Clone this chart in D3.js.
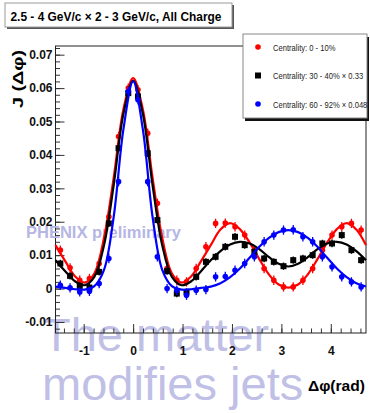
<!DOCTYPE html>
<html>
<head>
<meta charset="utf-8">
<script src="https://cdn.jsdelivr.net/npm/d3@7"></script>
<style>
  body { margin: 0; background: #fff; }
  svg { display: block; }
  text { font-family: "Liberation Sans", Arial, sans-serif; }
</style>
</head>
<body>
<script>
// bin centres (rad)
let binX = [-1.473, -1.276, -1.080, -0.884, -0.687, -0.491, -0.295, -0.098,
             0.098,  0.295,  0.491,  0.687,  0.884,  1.080,  1.276,  1.473,
             1.669,  1.865,  2.062,  2.258,  2.454,  2.651,  2.847,  3.043,
             3.240,  3.436,  3.633,  3.829,  4.025,  4.222,  4.418,  4.614];

let red   = [0.0115, 0.0062, 0.0025, 0.0030, 0.0075, 0.0215, 0.0455, 0.0600,
             0.0595, 0.0465, 0.0255, 0.0060, 0.0025, 0.0020, 0.0060, 0.0125,
             0.0195, 0.0196, 0.0185, 0.0160, 0.0115, 0.0060, 0.0025, 0.0005,
             0.0005, 0.0025, 0.0060, 0.0115, 0.0160, 0.0185, 0.0195, 0.0175];
let black = [0.0075, 0.0038, 0.0008, 0.0003, 0.0050, 0.0195, 0.0420, 0.0585,
             0.0575, 0.0405, 0.0205, 0.0052, -0.0015, -0.0010, 0.0035, 0.0080,
             0.0095, 0.0125, 0.0155, 0.0130, 0.0110, 0.0090, 0.0080, 0.0067,
             0.0085, 0.0090, 0.0100, 0.0135, 0.0135, 0.0160, 0.0115, 0.0085];
let blue  = [0.0010, 0.0002, -0.0010, -0.0008, 0.0015, 0.0090, 0.0320, 0.0590,
             0.0565, 0.0320, 0.0095, 0.0000, -0.0005, -0.0020, -0.0005, -0.0003,
             0.0035, 0.0036, 0.0055, 0.0075, 0.0095, 0.0140, 0.0160, 0.0175,
             0.0176, 0.0155, 0.0140, 0.0095, 0.0065, 0.0035, 0.0020, 0.0005];
let errors = [0.0014, 0.0011, 0.0014];

// fit curves
let fitX = [-1.571, -1.374, -1.178, -0.982, -0.785, -0.589, -0.393, -0.196, 0,
             0.196,  0.393,  0.589,  0.785,  0.982,  1.178,  1.374,  1.571,
             1.767,  1.963,  2.160,  2.356,  2.553,  2.749,  2.945,  3.142,
             3.338,  3.534,  3.731,  3.927,  4.123,  4.320,  4.516,  4.712];
let redFit   = [0.0130, 0.0082, 0.0037, 0.0018, 0.0045, 0.0152, 0.0332, 0.0537, 0.0630,
                0.0537, 0.0332, 0.0152, 0.0045, 0.0018, 0.0037, 0.0082, 0.0130,
                0.0177, 0.0196, 0.0178, 0.0138, 0.0088, 0.0042, 0.0012, 0.0003,
                0.0012, 0.0042, 0.0088, 0.0138, 0.0178, 0.0196, 0.0177, 0.0130];
let blackFit = [0.0085, 0.0052, 0.0022, 0.0010, 0.0035, 0.0130, 0.0310, 0.0523, 0.0622,
                0.0523, 0.0310, 0.0130, 0.0035, 0.0010, 0.0022, 0.0052, 0.0085,
                0.0112, 0.0132, 0.0140, 0.0135, 0.0118, 0.0094, 0.0074, 0.0066,
                0.0074, 0.0094, 0.0118, 0.0135, 0.0140, 0.0132, 0.0112, 0.0085];
let blueFit  = [0.0006, 0.0002, -0.0002, -0.0003, 0.0007, 0.0056, 0.0215, 0.0477, 0.0620,
                0.0477, 0.0215, 0.0056, 0.0007, -0.0003, -0.0002, 0.0002, 0.0006,
                0.0016, 0.0034, 0.0060, 0.0092, 0.0125, 0.0152, 0.0169, 0.0175,
                0.0169, 0.0152, 0.0125, 0.0092, 0.0060, 0.0034, 0.0016, 0.0006];

let legendLabels = ["Centrality:  0 - 10%", "Centrality: 30 - 40% \u00d7 0.33", "Centrality: 60 - 92% \u00d7 0.048"];
let xTicks = [-1, 0, 1, 2, 3, 4];
let yTicks = [-0.01, 0, 0.01, 0.02, 0.03, 0.04, 0.05, 0.06, 0.07];

let w = 370;
let h = 413;
let pLeft = 55.5, pRight = 366, pTop = 46, pBottom = 333;

let svg = d3.select("body").append("svg")
  .attr("width", w)
  .attr("height", h);

// Scales
let xScale = d3.scaleLinear()
  .domain([-Math.PI / 2, 3 * Math.PI / 2])
  .range([pLeft, pRight]);
let yScale = d3.scaleLinear()
  .domain([-0.0133, 0.0726])
  .range([pBottom, pTop]);

// big watermark text, under everything
let wm = svg.append("g").attr("fill", "rgb(192,192,230)");
wm.append("text").attr("x", 42).attr("y", 351).attr("font-size", "47px").text("The matter");
wm.append("text").attr("x", 42).attr("y", 400).attr("font-size", "47px").text("modifies jets");

// Axes
let xAxis = svg.append("g")
  .attr("transform", "translate(0," + pBottom + ")")
  .call(d3.axisBottom(xScale).tickValues(xTicks).tickSize(-9).tickPadding(13)
    .tickFormat(d => d < 0 ? "-" + Math.abs(d) : d));
let xMinor = svg.append("g")
  .attr("transform", "translate(0," + pBottom + ")")
  .call(d3.axisBottom(xScale).tickValues(d3.range(-1.4, 4.7, 0.2)).tickSize(-4.5).tickFormat(""));

let yAxis = svg.append("g")
  .attr("transform", "translate(" + pLeft + ",0)")
  .call(d3.axisLeft(yScale).tickValues(yTicks).tickSize(-9).tickPadding(3)
    .tickFormat(d => Math.abs(d) < 1e-9 ? "0" : d.toFixed(2)));
let yMinor = svg.append("g")
  .attr("transform", "translate(" + pLeft + ",0)")
  .call(d3.axisLeft(yScale).tickValues(d3.range(-0.012, 0.0725, 0.002)).tickSize(-4.5).tickFormat(""));

[xAxis, xMinor, yAxis, yMinor].forEach(g => {
  g.select(".domain").remove();
  g.selectAll("line").attr("stroke", "#333");
});
[xAxis, yAxis].forEach(g => {
  g.selectAll("text")
    .attr("font-size", "12px")
    .attr("font-weight", "bold")
    .attr("fill", "#111");
});

// frame
svg.append("rect")
  .attr("x", pLeft).attr("y", pTop)
  .attr("width", pRight - pLeft).attr("height", pBottom - pTop)
  .attr("fill", "none").attr("stroke", "#222").attr("stroke-width", 1);

// axis titles
svg.append("text")
  .attr("transform", "translate(23,79) rotate(-90)")
  .attr("text-anchor", "middle")
  .attr("font-size", "15px").attr("font-weight", "bold")
  .attr("textLength", 58).attr("lengthAdjust", "spacingAndGlyphs")
  .text("J (\u0394\u03c6)");
svg.append("text")
  .attr("x", 365).attr("y", 391)
  .attr("text-anchor", "end")
  .attr("font-size", "15px").attr("font-weight", "bold")
  .attr("textLength", 57).attr("lengthAdjust", "spacingAndGlyphs")
  .text("\u0394\u03c6(rad)");

// PHENIX preliminary (curves go over it)
svg.append("text")
  .attr("x", 26).attr("y", 238)
  .attr("font-size", "16.5px").attr("font-weight", "bold")
  .attr("fill", "rgb(182,182,228)")
  .text("PHENIX preliminary");

// fit curves
let line = d3.line()
  .x((d, i) => xScale(fitX[i]))
  .y(d => yScale(d))
  .curve(d3.curveCatmullRom.alpha(0.5));

let series = [
  { vals: red,   fit: redFit,   color: "#ff0000", shape: "circle" },
  { vals: black, fit: blackFit, color: "#000000", shape: "square" },
  { vals: blue,  fit: blueFit,  color: "#0000ff", shape: "circle" }
];

series.forEach((s, si) => {
  svg.append("path")
    .datum(s.fit)
    .attr("d", line)
    .attr("fill", "none")
    .attr("stroke", s.color)
    .attr("stroke-width", 2.2);

  let g = svg.append("g");
  // error bars
  g.selectAll("line")
    .data(s.vals)
    .enter()
    .append("line")
    .attr("x1", (d, i) => xScale(binX[i]))
    .attr("x2", (d, i) => xScale(binX[i]))
    .attr("y1", d => yScale(d - errors[si]))
    .attr("y2", d => yScale(d + errors[si]))
    .attr("stroke", s.color)
    .attr("stroke-width", 1.3);

  if (s.shape === "circle") {
    g.selectAll("circle")
      .data(s.vals)
      .enter()
      .append("circle")
      .attr("cx", (d, i) => xScale(binX[i]))
      .attr("cy", d => yScale(d))
      .attr("r", 2.8)
      .attr("fill", s.color);
  } else {
    g.selectAll("rect")
      .data(s.vals)
      .enter()
      .append("rect")
      .attr("x", (d, i) => xScale(binX[i]) - 3)
      .attr("y", d => yScale(d) - 3)
      .attr("width", 6)
      .attr("height", 6)
      .attr("fill", s.color);
  }
});

// title box
svg.append("rect").attr("x", 7).attr("y", 5).attr("width", 227).attr("height", 24).attr("fill", "#555");
svg.append("rect").attr("x", 5).attr("y", 3).attr("width", 227).attr("height", 24)
  .attr("fill", "#fff").attr("stroke", "#999").attr("stroke-width", 1);
svg.append("text")
  .attr("x", 10.5).attr("y", 20.5)
  .attr("font-size", "13px").attr("font-weight", "bold")
  .attr("textLength", 211).attr("lengthAdjust", "spacingAndGlyphs")
  .text("2.5 - 4 GeV/c \u00d7 2 - 3 GeV/c,  All Charge");

// legend
let lx = 243, ly = 34, lw = 124, lh = 84;
svg.append("rect").attr("x", lx + 2).attr("y", ly + 3).attr("width", lw).attr("height", lh).attr("fill", "#111");
svg.append("rect").attr("x", lx).attr("y", ly).attr("width", lw).attr("height", lh)
  .attr("fill", "#fff").attr("stroke", "#888").attr("stroke-width", 1);
legendLabels.forEach((lab, i) => {
  let cy = ly + 13 + i * 28.5;
  if (series[i].shape === "circle") {
    svg.append("circle").attr("cx", 258).attr("cy", cy).attr("r", 2.8).attr("fill", series[i].color);
  } else {
    svg.append("rect").attr("x", 255).attr("y", cy - 3).attr("width", 6).attr("height", 6).attr("fill", series[i].color);
  }
  // condensed look of the original font
  svg.append("text")
    .attr("transform", "translate(273," + (cy + 3.5) + ") scale(0.8,1)")
    .attr("font-size", "9.5px")
    .attr("fill", "#222")
    .text(lab);
});
</script>
</body>
</html>
